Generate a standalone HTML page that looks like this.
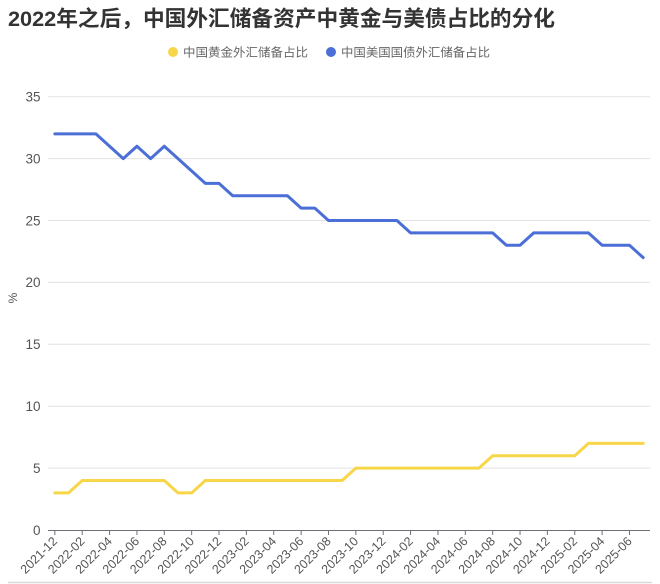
<!DOCTYPE html>
<html><head><meta charset="utf-8"><style>
html,body{margin:0;padding:0;background:#fff;width:660px;height:584px;overflow:hidden}
svg{display:block}
text{font-family:"Liberation Sans","Noto Sans CJK SC",sans-serif}
</style></head><body>
<svg width="660" height="584" viewBox="0 0 660 584" xmlns="http://www.w3.org/2000/svg">
<rect width="660" height="584" fill="#fff"/>
<text x="8" y="26" font-size="21.5" font-weight="bold" fill="#333" textLength="547" lengthAdjust="spacingAndGlyphs">2022年之后，中国外汇储备资产中黄金与美债占比的分化</text>
<circle cx="173" cy="52" r="5" fill="#f7d64a"/>
<text x="183" y="56.5" font-size="12" fill="#666" textLength="125" lengthAdjust="spacingAndGlyphs">中国黄金外汇储备占比</text>
<circle cx="331" cy="52" r="5" fill="#4b6fd6"/>
<text x="341" y="56.5" font-size="12" fill="#666" textLength="149" lengthAdjust="spacingAndGlyphs">中国美国国债外汇储备占比</text>
<g stroke="#e2e2e2" stroke-width="1">
<line x1="48" y1="96.7" x2="650" y2="96.7"/>
<line x1="48" y1="158.6" x2="650" y2="158.6"/>
<line x1="48" y1="220.5" x2="650" y2="220.5"/>
<line x1="48" y1="282.4" x2="650" y2="282.4"/>
<line x1="48" y1="344.3" x2="650" y2="344.3"/>
<line x1="48" y1="406.2" x2="650" y2="406.2"/>
<line x1="48" y1="468.1" x2="650" y2="468.1"/>
</g>
<g font-size="13.5" fill="#555" text-anchor="end">
<text x="40.5" y="101.5">35</text>
<text x="40.5" y="163.4">30</text>
<text x="40.5" y="225.3">25</text>
<text x="40.5" y="287.2">20</text>
<text x="40.5" y="349.1">15</text>
<text x="40.5" y="411">10</text>
<text x="40.5" y="472.9">5</text>
<text x="40.5" y="534.8">0</text>
</g>
<text transform="translate(17,298) rotate(-90)" font-size="12" fill="#555" text-anchor="middle">%</text>
<line x1="48" y1="530.5" x2="650" y2="530.5" stroke="#6e7079" stroke-width="1"/>
<g stroke="#6e7079" stroke-width="1">
<line x1="54.84" y1="530" x2="54.84" y2="535"/>
<line x1="82.20" y1="530" x2="82.20" y2="535"/>
<line x1="109.57" y1="530" x2="109.57" y2="535"/>
<line x1="136.93" y1="530" x2="136.93" y2="535"/>
<line x1="164.30" y1="530" x2="164.30" y2="535"/>
<line x1="191.66" y1="530" x2="191.66" y2="535"/>
<line x1="219.02" y1="530" x2="219.02" y2="535"/>
<line x1="246.39" y1="530" x2="246.39" y2="535"/>
<line x1="273.75" y1="530" x2="273.75" y2="535"/>
<line x1="301.12" y1="530" x2="301.12" y2="535"/>
<line x1="328.48" y1="530" x2="328.48" y2="535"/>
<line x1="355.84" y1="530" x2="355.84" y2="535"/>
<line x1="383.21" y1="530" x2="383.21" y2="535"/>
<line x1="410.57" y1="530" x2="410.57" y2="535"/>
<line x1="437.94" y1="530" x2="437.94" y2="535"/>
<line x1="465.30" y1="530" x2="465.30" y2="535"/>
<line x1="492.66" y1="530" x2="492.66" y2="535"/>
<line x1="520.03" y1="530" x2="520.03" y2="535"/>
<line x1="547.39" y1="530" x2="547.39" y2="535"/>
<line x1="574.76" y1="530" x2="574.76" y2="535"/>
<line x1="602.12" y1="530" x2="602.12" y2="535"/>
<line x1="629.48" y1="530" x2="629.48" y2="535"/>
</g>
<g font-size="12.5" fill="#555" text-anchor="end">
<text transform="translate(58,542) rotate(-45)">2021-12</text>
<text transform="translate(85.4,542) rotate(-45)">2022-02</text>
<text transform="translate(112.8,542) rotate(-45)">2022-04</text>
<text transform="translate(140.1,542) rotate(-45)">2022-06</text>
<text transform="translate(167.5,542) rotate(-45)">2022-08</text>
<text transform="translate(194.9,542) rotate(-45)">2022-10</text>
<text transform="translate(222.2,542) rotate(-45)">2022-12</text>
<text transform="translate(249.6,542) rotate(-45)">2023-02</text>
<text transform="translate(277.0,542) rotate(-45)">2023-04</text>
<text transform="translate(304.3,542) rotate(-45)">2023-06</text>
<text transform="translate(331.7,542) rotate(-45)">2023-08</text>
<text transform="translate(359.0,542) rotate(-45)">2023-10</text>
<text transform="translate(386.4,542) rotate(-45)">2023-12</text>
<text transform="translate(413.8,542) rotate(-45)">2024-02</text>
<text transform="translate(441.1,542) rotate(-45)">2024-04</text>
<text transform="translate(468.5,542) rotate(-45)">2024-06</text>
<text transform="translate(495.9,542) rotate(-45)">2024-08</text>
<text transform="translate(523.2,542) rotate(-45)">2024-10</text>
<text transform="translate(550.6,542) rotate(-45)">2024-12</text>
<text transform="translate(578.0,542) rotate(-45)">2025-02</text>
<text transform="translate(605.3,542) rotate(-45)">2025-04</text>
<text transform="translate(632.7,542) rotate(-45)">2025-06</text>
</g>
<polyline fill="none" stroke="#4b6fd6" stroke-width="3" stroke-linejoin="round" stroke-linecap="round"
points="54.84,133.84 95.89,133.84 109.57,146.22 123.25,158.6 136.93,146.22 150.61,158.6 164.30,146.22 177.98,158.6 191.66,170.98 205.34,183.36 219.02,183.36 232.71,195.74 287.43,195.74 301.12,208.12 314.80,208.12 328.48,220.5 396.89,220.5 410.57,232.88 492.66,232.88 506.35,245.26 520.03,245.26 533.71,232.88 588.44,232.88 602.12,245.26 629.48,245.26 643.17,257.64"/>
<polyline fill="none" stroke="#f7d64a" stroke-width="3" stroke-linejoin="round" stroke-linecap="round"
points="54.84,492.86 68.52,492.86 82.20,480.48 164.30,480.48 177.98,492.86 191.66,492.86 205.34,480.48 342.16,480.48 355.84,468.1 478.98,468.1 492.66,455.72 574.76,455.72 588.44,443.34 643.17,443.34"/>
<line x1="8" y1="582.5" x2="652" y2="582.5" stroke="#d8d8d8" stroke-width="1.5"/>
</svg>
</body></html>
